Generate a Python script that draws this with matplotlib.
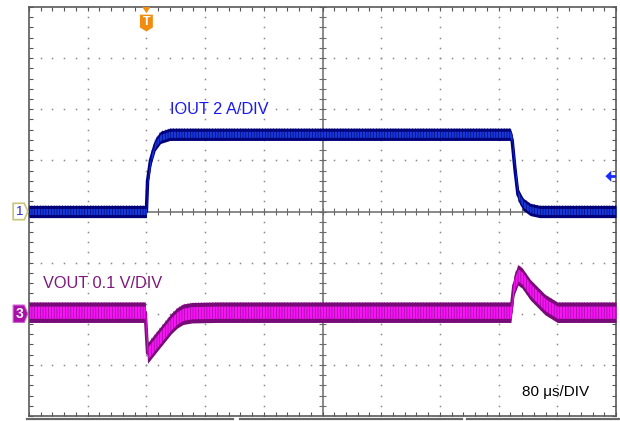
import numpy as np
import matplotlib.pyplot as plt
from matplotlib.patches import Polygon
from matplotlib.lines import Line2D

plt.rcParams['font.family'] = ['Liberation Sans', 'DejaVu Sans']
plt.rcParams['hatch.linewidth'] = 0.4

# scope settings
us_per_div = 80
amps_per_div = 2
mv_per_div = 100
trigger_div = 2        # trigger sits 2 div from the left edge
ch3_offset = -1.97     # VOUT trace position in div

# channel 1: output current (time in us from trigger, current in A)
iout_t = [-160, 0, 1.6, 5.6, 12, 19.2, 32, 80, 496, 498.4, 502.4, 506.4, 513.6, 523.2, 536, 640]
iout_a = [0, 0, 1.2, 2.0, 2.62, 2.9, 3.02, 3.02, 3.02, 2.8, 1.64, 0.66, 0.28, 0.08, 0, 0]
iout_noise = 0.24      # A, half width of the noise band

# channel 3: output voltage deviation (mV)
vout_t = [-160, -1.6, 1.6, 16, 34, 42, 50, 62, 96, 496.8, 500.8, 506.4, 512, 523.2, 543.2, 560, 640]
vout_mv = [0, 0, -80, -54, -22, -11, -4, -1, 0, 0, 52, 73, 67, 44, 15, 0, 0]
vout_noise = 20        # mV, half width of the noise band

labels = {'iout': 'IOUT 2 A/DIV', 'vout': 'VOUT 0.1 V/DIV', 'time': '80 \u03bcs/DIV'}

fig = plt.figure(figsize=(6.2, 4.21), dpi=100)
ax = fig.add_axes([29 / 620, 5 / 421, 587 / 620, 409 / 421])
ax.set_xlim(0, 10)
ax.set_ylim(-4, 4)

# graticule
dot_step = np.arange(0, 10.01, 0.2)
for gy in [-3, -2, -1, 1, 2, 3]:
    ax.plot(dot_step, np.full_like(dot_step, gy), ls='none', marker='s', ms=1.1,
            mec='none', mfc='#8a8a8a', zorder=1)
dot_step_y = np.arange(-4, 4.01, 0.2)
for gx in [1, 2, 3, 4, 6, 7, 8, 9]:
    ax.plot(np.full_like(dot_step_y, gx), dot_step_y, ls='none', marker='s', ms=1.1,
            mec='none', mfc='#8a8a8a', zorder=1)
ax.axhline(0, color='#6a6a6a', lw=1.1, zorder=1)
ax.axvline(5, color='#6a6a6a', lw=1.1, zorder=1)
ax.vlines(dot_step, -0.07, 0.07, color='#6a6a6a', lw=0.8, zorder=1)
ax.hlines(dot_step_y, 4.94, 5.06, color='#6a6a6a', lw=0.8, zorder=1)

ax.set_xticks(np.arange(0, 10.01, 1))
ax.set_xticks(dot_step, minor=True)
ax.set_yticks(np.arange(-4, 4.01, 1))
ax.set_yticks(dot_step_y, minor=True)
ax.tick_params(which='both', direction='in', top=True, right=True, length=3,
               width=0.8, color='#555555', labelbottom=False, labelleft=False)
for s in ax.spines.values():
    s.set_color('#5a5a5a')
    s.set_linewidth(1.2)

# IOUT trace
x1 = np.array(iout_t) / us_per_div + trigger_div
y1 = np.array(iout_a) / amps_per_div
h1 = iout_noise / amps_per_div
ax.fill_between(x1, y1 - h1, y1 + h1, color='#00007e', lw=0, zorder=3)
ax.plot(x1, y1, color='#00008c', lw=2.5, zorder=3)
ax.fill_between(x1, y1 - h1 * 0.5, y1 + h1 * 0.5, color='#1838d8', lw=0, zorder=4)
ax.fill_between(x1, y1 - h1, y1 + h1, facecolor='none', edgecolor='#000066', hatch='||||||',
                lw=0, zorder=4)

# VOUT trace
x3 = np.array(vout_t) / us_per_div + trigger_div
y3 = np.array(vout_mv) / mv_per_div + ch3_offset
h3 = vout_noise / mv_per_div
ax.fill_between(x3, y3 - h3, y3 + h3, color='#740a74', lw=0, zorder=3)
ax.plot(x3, y3, color='#80107f', lw=2.5, zorder=3)
ax.fill_between(x3, y3 - h3 * 0.6, y3 + h3 * 0.6, color='#f414f4', lw=0, zorder=4)
ax.fill_between(x3, y3 - h3, y3 + h3, facecolor='none', edgecolor='#8a0a8a', hatch='||||||',
                lw=0, zorder=4)

# labels
ax.text(2.40, 2.0, labels['iout'], color='#1a1aee', fontsize=11.8, va='center')
ax.text(0.24, -1.41, labels['vout'], color='#7d1a7d', fontsize=11.8, va='center')
ax.text(8.40, -3.53, labels['time'], color='black', fontsize=11, va='center')

# channel markers
ch1 = Polygon([(-0.27, -0.16), (-0.08, -0.16), (-0.02, 0), (-0.08, 0.16), (-0.27, 0.16)],
              closed=True, fc='white', ec='#c8c47a', lw=1.2, clip_on=False, zorder=5)
ax.add_patch(ch1)
ax.text(-0.16, 0, '1', color='#2424d0', fontsize=9.5, ha='center', va='center',
        clip_on=False, zorder=6)
ch3 = Polygon([(-0.27, -2.17), (-0.08, -2.17), (-0.02, -2.0), (-0.08, -1.83), (-0.27, -1.83)],
              closed=True, fc='#a810a8', ec='#d060d0', lw=0.8, clip_on=False, zorder=5)
ax.add_patch(ch3)
ax.text(-0.16, -2.0, '3', color='white', fontsize=10, fontweight='bold', ha='center',
        va='center', clip_on=False, zorder=6)

# trigger marker
ax.add_patch(Polygon([(1.93, 4.0), (2.07, 4.0), (2.0, 3.88)], closed=True, fc='#f08c10',
                     ec='none', clip_on=False, zorder=5))
ax.add_patch(Polygon([(1.89, 3.85), (2.11, 3.85), (2.11, 3.6), (2.0, 3.52), (1.89, 3.6)],
                     closed=True, fc='#f08c10', ec='none', clip_on=False, zorder=5))
ax.text(2.0, 3.7, 'T', color='white', fontsize=9, fontweight='bold', ha='center',
        va='center', zorder=6)

# trigger level arrow
ax.add_patch(Polygon([(9.82, 0.69), (9.92, 0.80), (9.92, 0.58)], closed=True,
                     fc='#1a2cff', ec='none', zorder=5))
ax.plot([9.9, 9.99], [0.69, 0.69], color='#1a2cff', lw=2, zorder=5)

# bottom bar of the scope screen
for x0, x1b in [(27, 233), (240, 462), (467, 620)]:
    fig.add_artist(Line2D([x0 / 620, x1b / 620], [1.6 / 421, 1.6 / 421],
                          color='#666666', lw=1.6))

fig.savefig('out.png', dpi=100)
